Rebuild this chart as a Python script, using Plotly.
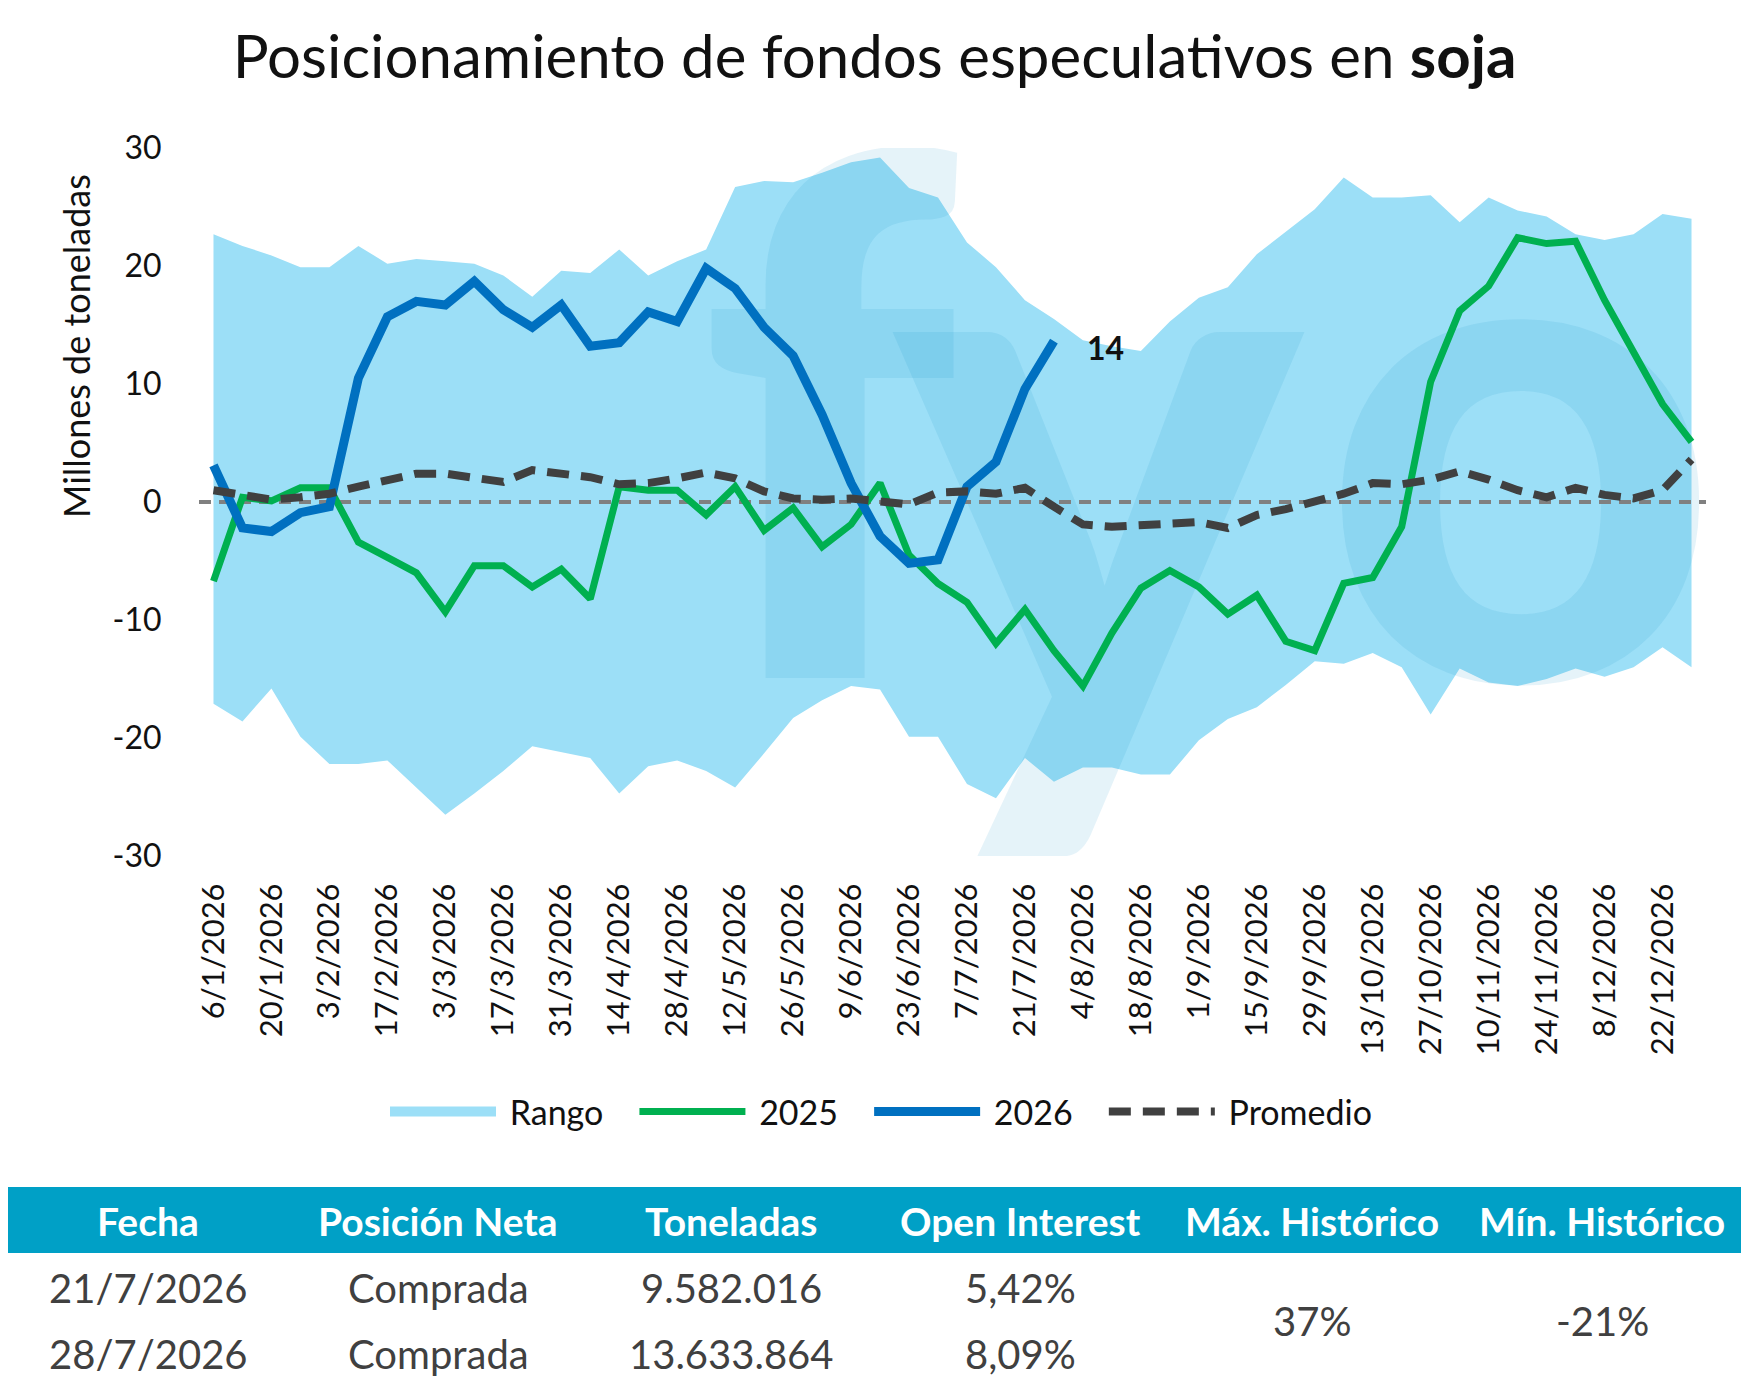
import plotly.graph_objects as go

# ---------------- data ----------------
dates = ["6/1/2026", "13/1/2026", "20/1/2026", "27/1/2026", "3/2/2026", "10/2/2026", "17/2/2026",
         "24/2/2026", "3/3/2026", "10/3/2026", "17/3/2026", "24/3/2026", "31/3/2026", "7/4/2026",
         "14/4/2026", "21/4/2026", "28/4/2026", "5/5/2026", "12/5/2026", "19/5/2026", "26/5/2026",
         "2/6/2026", "9/6/2026", "16/6/2026", "23/6/2026", "30/6/2026", "7/7/2026", "14/7/2026",
         "21/7/2026", "28/7/2026", "4/8/2026", "11/8/2026", "18/8/2026", "25/8/2026", "1/9/2026",
         "8/9/2026", "15/9/2026", "22/9/2026", "29/9/2026", "6/10/2026", "13/10/2026", "20/10/2026",
         "27/10/2026", "3/11/2026", "10/11/2026", "17/11/2026", "24/11/2026", "1/12/2026",
         "8/12/2026", "15/12/2026", "22/12/2026", "29/12/2026"]

rango_max = [22.7, 21.7, 20.9, 19.9, 19.9, 21.7, 20.2, 20.6, 20.4, 20.2, 19.2, 17.4, 19.6, 19.4,
             21.4, 19.2, 20.4, 21.4, 26.7, 27.2, 27.1, 27.9, 28.8, 29.2, 26.6, 25.8, 22.0, 19.9,
             17.1, 15.5, 13.7, 13.2, 12.8, 15.3, 17.3, 18.2, 21.0, 22.9, 24.8, 27.5, 25.8, 25.8,
             26.0, 23.7, 25.8, 24.7, 24.2, 22.7, 22.2, 22.7, 24.4, 24.0]

rango_min = [-17.1, -18.6, -15.8, -19.9, -22.2, -22.2, -21.9, -24.2, -26.5, -24.7, -22.8, -20.7,
             -21.2, -21.7, -24.7, -22.4, -21.9, -22.8, -24.2, -21.3, -18.3, -16.8, -15.6, -15.9,
             -19.9, -19.9, -23.9, -25.1, -21.7, -23.7, -22.5, -22.5, -23.1, -23.1, -20.2, -18.4,
             -17.4, -15.5, -13.5, -13.7, -12.8, -14.0, -18.0, -14.1, -15.3, -15.6, -15.0, -14.1,
             -14.8, -14.0, -12.3, -14.0]

serie_2025 = [-6.7, 0.4, 0.1, 1.2, 1.2, -3.4, -4.7, -6.0, -9.3, -5.4, -5.4, -7.2, -5.7, -8.2,
              1.3, 1.0, 1.0, -1.1, 1.3, -2.4, -0.5, -3.8, -1.9, 1.6, -4.5, -6.9, -8.5, -12.0,
              -9.1, -12.6, -15.6, -11.1, -7.3, -5.8, -7.2, -9.5, -7.9, -11.8, -12.6, -6.9, -6.4,
              -2.1, 10.2, 16.2, 18.3, 22.4, 21.9, 22.1, 17.1, 12.7, 8.3, 5.1]

serie_2026 = [3.1, -2.2, -2.5, -0.9, -0.4, 10.5, 15.7, 17.0, 16.7, 18.7, 16.3, 14.8, 16.7, 13.2,
              13.5, 16.1, 15.3, 19.8, 18.1, 14.8, 12.4, 7.4, 1.6, -2.9, -5.2, -4.9, 1.3, 3.4,
              9.582016, 13.633864]

promedio = [1.0, 0.6, 0.2, 0.4, 0.7, 1.3, 1.9, 2.4, 2.4, 2.0, 1.7, 2.7, 2.4, 2.1, 1.5, 1.6, 2.0,
            2.5, 2.0, 0.9, 0.3, 0.2, 0.3, 0.1, -0.2, 0.8, 0.9, 0.7, 1.2, -0.4, -1.9, -2.1, -1.95,
            -1.8, -1.7, -2.2, -1.1, -0.6, 0.1, 0.7, 1.6, 1.5, 1.9, 2.6, 1.9, 1.0, 0.4, 1.2, 0.6,
            0.3, 1.0, 3.6]

y_ticks = [-30, -20, -10, 0, 10, 20, 30]
y_ticktext = ["-30", "-20", "-10", "0", "10", "20", "30"]

tabla_headers = ["Fecha", "Posición Neta", "Toneladas", "Open Interest", "Máx. Histórico", "Mín. Histórico"]
tabla_fechas = ["21/7/2026", "28/7/2026"]
tabla_posicion = ["Comprada", "Comprada"]
tabla_toneladas = ["9.582.016", "13.633.864"]
tabla_oi = ["5,42%", "8,09%"]
tabla_max = "37%"
tabla_min = "-21%"

# watermark letters (decorative)
marca_letras = ["f", "y", "o"]

# ---------------- layout constants ----------------
OFF = 8                      # default body margin of the html page
W, H = 1749 - 2 * OFF, 1389 - 2 * OFF
L, R, T, B = 191, 35, 140, 525
PW = W - L - R
PH = H - T - B
FONT = "Lato"
BAND = "rgb(156,223,247)"
GREEN = "#00B050"
BLUE = "#0070C0"
AVG = "#404040"
TEAL = "#00A0C6"
TXT = "#404040"
PRE = "\u00a0"               # small gap between legend swatch and text
PAD = "\u00a0" * 3           # spacing between legend entries


def px(x):
    """screen x (reference pixels) -> paper"""
    return (x - OFF - L) / PW


def py(y):
    """screen y (reference pixels) -> paper"""
    return (T + PH - (y - OFF)) / PH


idx = list(range(len(dates)))

fig = go.Figure()

# Range band
fig.add_trace(go.Scatter(x=idx, y=rango_min, mode="lines", line=dict(width=0, color=BAND),
                         showlegend=False, hoverinfo="skip"))
fig.add_trace(go.Scatter(x=idx, y=rango_max, mode="lines", line=dict(width=0, color=BAND),
                         fill="tonexty", fillcolor=BAND, name="Rango", showlegend=False))
# legend swatch for the band
fig.add_trace(go.Scatter(x=[None], y=[None], mode="lines", name=PRE + "Rango" + PAD,
                         line=dict(color=BAND, width=22)))

# Watermark letters, drawn under the lines
fig.add_trace(go.Scatter(x=[21.2, 30.5, 45.1], y=[0.35, -2.9, -0.5], mode="text",
                         text=marca_letras, textposition="middle center",
                         textfont=dict(family=FONT, size=[720, 770, 690],
                                       color="rgba(0,140,200,0.10)", weight=900),
                         showlegend=False, hoverinfo="skip"))

# Zero reference line
fig.add_trace(go.Scatter(x=[-0.5, len(dates) - 0.5], y=[0, 0], mode="lines",
                         line=dict(color="#808080", width=4, dash="12px,8px"),
                         showlegend=False, hoverinfo="skip"))

fig.add_trace(go.Scatter(x=idx, y=serie_2025, mode="lines", name=PRE + "2025" + PAD,
                         line=dict(color=GREEN, width=7)))
fig.add_trace(go.Scatter(x=idx[:len(serie_2026)], y=serie_2026, mode="lines",
                         name=PRE + "2026" + PAD, line=dict(color=BLUE, width=9)))
fig.add_trace(go.Scatter(x=idx, y=promedio, mode="lines", name=PRE + "Promedio",
                         line=dict(color=AVG, width=8, dash="22px,12px")))

annotations = []
# data label of last 2026 value
annotations.append(dict(x=len(serie_2026) - 1, y=serie_2026[-1], xref="x", yref="y",
                        xanchor="center", yanchor="middle",
                        text="<b>%d</b>" % round(serie_2026[-1]), showarrow=False,
                        xshift=52, yshift=-6, font=dict(family=FONT, size=32, color="#111")))

# y axis title
annotations.append(dict(x=px(76), y=py(346), xref="paper", yref="paper", xanchor="center",
                        yanchor="middle", text="Millones de toneladas", textangle=-90,
                        showarrow=False, font=dict(family=FONT, size=36, color="#111")))

# table
col_x = [148, 438, 731, 1021, 1312, 1602]
for cx, h in zip(col_x, tabla_headers):
    annotations.append(dict(x=px(cx), y=py(1221), xref="paper", yref="paper", xanchor="center",
                            yanchor="middle", text="<b>%s</b>" % h, showarrow=False,
                            font=dict(family=FONT, size=39, color="white")))
row_y = [1288, 1354]
for r in range(2):
    for cx, val in zip(col_x[:4], [tabla_fechas[r], tabla_posicion[r], tabla_toneladas[r], tabla_oi[r]]):
        annotations.append(dict(x=px(cx), y=py(row_y[r]), xref="paper", yref="paper",
                                xanchor="center", yanchor="middle", text=val, showarrow=False,
                                font=dict(family=FONT, size=40, color=TXT)))
for cx, val in zip(col_x[4:], [tabla_max, tabla_min]):
    annotations.append(dict(x=px(cx), y=py(1321), xref="paper", yref="paper", xanchor="center",
                            yanchor="middle", text=val, showarrow=False,
                            font=dict(family=FONT, size=40, color=TXT)))

shapes = [dict(type="rect", xref="paper", yref="paper", x0=px(3), x1=px(1749), y0=py(1187),
               y1=py(1253), fillcolor=TEAL, line=dict(width=0), layer="above")]

fig.update_layout(
    width=W, height=H,
    margin=dict(l=L, r=R, t=T, b=B),
    paper_bgcolor="white", plot_bgcolor="white",
    title=dict(text="Posicionamiento de fondos especulativos en <b>soja</b>",
               x=0.5, xanchor="center", xref="container",
               y=1 - (57 - OFF) / H, yanchor="middle", yref="container",
               font=dict(family=FONT, size=60, color="#111")),
    xaxis=dict(range=[-0.5, len(dates) - 0.5], tickmode="array", tickvals=idx[::2],
               ticktext=dates[::2], tickangle=-90, showgrid=False, zeroline=False,
               showline=False, ticks="outside", ticklen=14, tickcolor="rgba(0,0,0,0)",
               tickfont=dict(family=FONT, size=31, color="#111")),
    yaxis=dict(range=[-30, 30], tickmode="array", tickvals=y_ticks, ticktext=y_ticktext,
               showgrid=False, zeroline=False, showline=False, ticks="outside", ticklen=30,
               tickcolor="rgba(0,0,0,0)", tickfont=dict(family=FONT, size=32, color="#111")),
    legend=dict(orientation="h", xref="container", yref="container",
                x=(881 - OFF) / W, xanchor="center",
                y=1 - (1112 - OFF) / H, yanchor="middle",
                font=dict(family=FONT, size=34, color="#111"),
                itemwidth=106, traceorder="normal"),
    annotations=annotations,
    shapes=shapes,
    hovermode=False,
)

fig.write_html("out.html")
